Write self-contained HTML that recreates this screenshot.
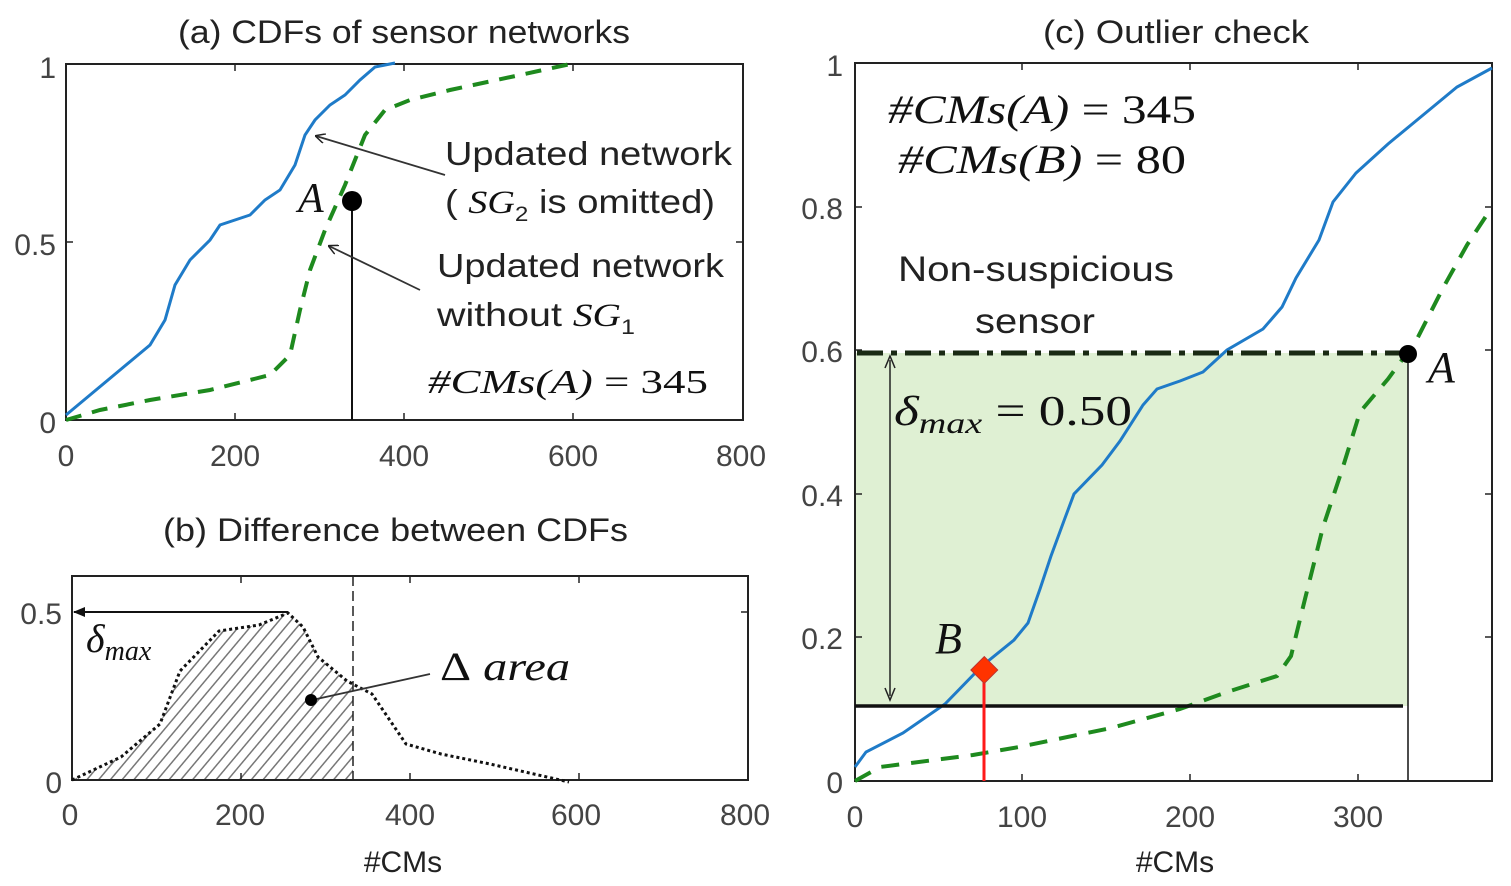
<!DOCTYPE html>
<html><head><meta charset="utf-8"><style>
html,body{margin:0;padding:0;background:#fff;}
svg{display:block;}
.t{font-family:"Liberation Sans",sans-serif;fill:#222;}
.tk{font-family:"Liberation Sans",sans-serif;fill:#444;font-size:30px;}
.m{font-family:"Liberation Serif",serif;font-style:italic;fill:#111;}
</style></head><body>
<svg width="1511" height="886" viewBox="0 0 1511 886" xmlns="http://www.w3.org/2000/svg">
<defs>
<pattern id="h" patternUnits="userSpaceOnUse" width="9" height="9" patternTransform="rotate(40)">
<line x1="0" y1="0" x2="0" y2="9" stroke="#777" stroke-width="3"/></pattern>
<marker id="ar" markerWidth="10" markerHeight="10" refX="9" refY="5" orient="auto" markerUnits="userSpaceOnUse"><path d="M0,0 L10,5 L0,10" fill="none" stroke="#222" stroke-width="1.5"/></marker>
<marker id="af" markerWidth="12" markerHeight="10" refX="11" refY="5" orient="auto" markerUnits="userSpaceOnUse"><path d="M0,0 L12,5 L0,10 z" fill="#111"/></marker>
</defs>

<!-- Panel a -->
<text class="t" x="178" y="43" font-size="32" textLength="452" lengthAdjust="spacingAndGlyphs">(a) CDFs of sensor networks</text>
<rect x="66" y="64" width="677" height="356" fill="none" stroke="#222" stroke-width="2"/>
<g stroke="#222" stroke-width="1.5">
<line x1="235" y1="420" x2="235" y2="413"/><line x1="404" y1="420" x2="404" y2="413"/><line x1="573" y1="420" x2="573" y2="413"/>
<line x1="235" y1="64" x2="235" y2="71"/><line x1="404" y1="64" x2="404" y2="71"/><line x1="573" y1="64" x2="573" y2="71"/>
<line x1="66" y1="242" x2="73" y2="242"/><line x1="743" y1="242" x2="736" y2="242"/></g>
<polyline fill="none" stroke="#1f7bc8" stroke-width="3" points="66,415 90,395 120,370 150,345 165,320 175,285 190,260 210,240 220,225 250,215 265,200 280,190 295,165 305,135 315,120 330,105 345,95 360,80 375,67 395,63"/>
<polyline fill="none" stroke="#1e8a1e" stroke-width="4" stroke-dasharray="16,11" points="66,420 100,410 150,400 210,390 270,375 290,355 300,310 310,270 325,230 345,185 365,135 385,110 410,100 450,90 520,75 575,63"/>
<line x1="352" y1="201" x2="352" y2="420" stroke="#111" stroke-width="2"/>
<circle cx="352" cy="201" r="10" fill="#000"/>
<text class="m" x="298" y="212" font-size="42">A</text>
<line x1="445" y1="175" x2="316" y2="136" stroke="#333" stroke-width="1.8" marker-end="url(#ar)"/>
<line x1="420" y1="290" x2="329" y2="246" stroke="#333" stroke-width="1.8" marker-end="url(#ar)"/>
<text class="t" x="445" y="165" font-size="33" textLength="287" lengthAdjust="spacingAndGlyphs">Updated network</text>
<text class="t" x="445" y="213" font-size="33" textLength="270" lengthAdjust="spacingAndGlyphs">( <tspan class="m">SG</tspan><tspan font-size="21" dy="8">2</tspan><tspan dy="-8"> is omitted)</tspan></text>
<text class="t" x="437" y="277" font-size="33" textLength="287" lengthAdjust="spacingAndGlyphs">Updated network</text>
<text class="t" x="437" y="326" font-size="33" textLength="198" lengthAdjust="spacingAndGlyphs">without <tspan class="m">SG</tspan><tspan font-size="21" dy="8">1</tspan></text>
<text class="m" x="428" y="393" font-size="34" textLength="280" lengthAdjust="spacingAndGlyphs">#CMs(A) <tspan font-style="normal">= 345</tspan></text>
<text class="tk" x="56" y="78" text-anchor="end">1</text>
<text class="tk" x="56" y="255" text-anchor="end">0.5</text>
<text class="tk" x="56" y="433" text-anchor="end">0</text>
<g class="tk" text-anchor="middle"><text x="66" y="466">0</text><text x="235" y="466">200</text><text x="404" y="466">400</text><text x="573" y="466">600</text><text x="741" y="466">800</text></g>

<!-- Panel b -->
<text class="t" x="163" y="541" font-size="32" textLength="465" lengthAdjust="spacingAndGlyphs">(b) Difference between CDFs</text>
<path d="M72,780 L121,757 L160,724 L180,671 L219,631 L259,625 L288,613 L303,627 L318,657 L347,681 L353,684 L353,780 Z" fill="url(#h)"/>
<rect x="72" y="576" width="676" height="204" fill="none" stroke="#222" stroke-width="2"/>
<g stroke="#222" stroke-width="1.5">
<line x1="241" y1="780" x2="241" y2="773"/><line x1="410" y1="780" x2="410" y2="773"/><line x1="579" y1="780" x2="579" y2="773"/>
<line x1="241" y1="576" x2="241" y2="583"/><line x1="410" y1="576" x2="410" y2="583"/><line x1="579" y1="576" x2="579" y2="583"/>
<line x1="748" y1="612" x2="741" y2="612"/></g>
<line x1="353" y1="576" x2="353" y2="780" stroke="#222" stroke-width="1.5" stroke-dasharray="10,5"/>
<polyline fill="none" stroke="#111" stroke-width="3" stroke-dasharray="3,3" points="72,780 121,757 160,724 180,671 219,631 259,625 288,613 303,627 318,657 347,681 372,694 406,744 441,754 490,764 569,782"/>
<line x1="288" y1="612" x2="74" y2="612" stroke="#111" stroke-width="2" marker-end="url(#af)"/>
<text class="m" x="86" y="652" font-size="40">δ<tspan font-size="28" dy="8">max</tspan></text>
<text class="m" x="440" y="680" font-size="40" textLength="130" lengthAdjust="spacingAndGlyphs"><tspan font-style="normal">Δ</tspan> area</text>
<line x1="430" y1="674" x2="312" y2="700" stroke="#333" stroke-width="1.8"/>
<circle cx="311" cy="700" r="6" fill="#000"/>
<text class="tk" x="62" y="624" text-anchor="end">0.5</text>
<text class="tk" x="62" y="793" text-anchor="end">0</text>
<g class="tk" text-anchor="middle"><text x="70" y="825">0</text><text x="240" y="825">200</text><text x="410" y="825">400</text><text x="576" y="825">600</text><text x="745" y="825">800</text></g>
<text class="t" x="403" y="872" font-size="30" text-anchor="middle">#CMs</text>

<!-- Panel c -->
<text class="t" x="1043" y="43" font-size="32" textLength="266" lengthAdjust="spacingAndGlyphs">(c) Outlier check</text>
<rect x="855" y="353" width="553" height="353" fill="#dff0d3"/>
<rect x="855" y="63" width="637" height="718" fill="none" stroke="#222" stroke-width="2"/>
<g stroke="#222" stroke-width="1.5">
<line x1="1022" y1="781" x2="1022" y2="774"/><line x1="1190" y1="781" x2="1190" y2="774"/><line x1="1358" y1="781" x2="1358" y2="774"/>
<line x1="1022" y1="63" x2="1022" y2="70"/><line x1="1190" y1="63" x2="1190" y2="70"/><line x1="1358" y1="63" x2="1358" y2="70"/>
<line x1="855" y1="637" x2="862" y2="637"/><line x1="855" y1="494" x2="862" y2="494"/><line x1="855" y1="350" x2="862" y2="350"/><line x1="855" y1="207" x2="862" y2="207"/>
<line x1="1492" y1="637" x2="1485" y2="637"/><line x1="1492" y1="494" x2="1485" y2="494"/><line x1="1492" y1="350" x2="1485" y2="350"/><line x1="1492" y1="207" x2="1485" y2="207"/></g>
<polyline fill="none" stroke="#1f7bc8" stroke-width="3" points="855,767 866,752 903,733 945,704 982,666 1014,640 1028,623 1040,589 1051,556 1065,518 1074,494 1102,465 1120,441 1143,405 1157,389 1180,381 1203,372 1227,350 1263,329 1282,307 1296,278 1319,240 1333,202 1356,173 1388,144 1411,125 1434,106 1457,87 1492,68"/>
<polyline fill="none" stroke="#1e8a1e" stroke-width="4" stroke-dasharray="18,12" points="855,781 880,767 973,755 1019,747 1111,728 1180,709 1227,692 1277,676 1291,656 1305,599 1323,527 1342,470 1360,412 1388,379 1416,341 1443,288 1467,245 1492,207"/>
<line x1="857" y1="353" x2="1408" y2="353" stroke="#1a2a14" stroke-width="5" stroke-dasharray="26,8,6,8"/>
<line x1="855" y1="706" x2="1403" y2="706" stroke="#111" stroke-width="3.5"/>
<line x1="1408" y1="353" x2="1408" y2="780" stroke="#111" stroke-width="1.5"/>
<circle cx="1408" cy="354" r="9" fill="#000"/>
<text class="m" x="1428" y="382" font-size="44">A</text>
<line x1="890" y1="360" x2="890" y2="696" stroke="#222" stroke-width="1.5"/>
<path d="M885,368 L890,356 L895,368" fill="none" stroke="#222" stroke-width="1.5"/>
<path d="M885,688 L890,700 L895,688" fill="none" stroke="#222" stroke-width="1.5"/>
<text class="m" x="894" y="425" font-size="42" textLength="238" lengthAdjust="spacingAndGlyphs">δ<tspan font-size="30" dy="8">max</tspan><tspan font-style="normal" dy="-8"> = 0.50</tspan></text>
<line x1="984" y1="670" x2="984" y2="781" stroke="#ff1a1a" stroke-width="3"/>
<rect x="975" y="661" width="19" height="19" fill="#ff3300" stroke="#b33" stroke-width="1" transform="rotate(45 985 670)"/>
<text class="m" x="935" y="653" font-size="44">B</text>
<text class="m" x="888" y="123" font-size="40" textLength="308" lengthAdjust="spacingAndGlyphs">#CMs(A) <tspan font-style="normal">= 345</tspan></text>
<text class="m" x="898" y="173" font-size="40" textLength="288" lengthAdjust="spacingAndGlyphs">#CMs(B) <tspan font-style="normal">= 80</tspan></text>
<text class="t" x="898" y="281" font-size="35" textLength="276" lengthAdjust="spacingAndGlyphs">Non-suspicious</text>
<text class="t" x="975" y="333" font-size="35" textLength="120" lengthAdjust="spacingAndGlyphs">sensor</text>
<g class="tk" text-anchor="end"><text x="843" y="76">1</text><text x="843" y="219">0.8</text><text x="843" y="362">0.6</text><text x="843" y="506">0.4</text><text x="843" y="649">0.2</text><text x="843" y="793">0</text></g>
<g class="tk" text-anchor="middle"><text x="855" y="827">0</text><text x="1022" y="827">100</text><text x="1190" y="827">200</text><text x="1358" y="827">300</text></g>
<text class="t" x="1175" y="872" font-size="30" text-anchor="middle">#CMs</text>
</svg>
</body></html>
